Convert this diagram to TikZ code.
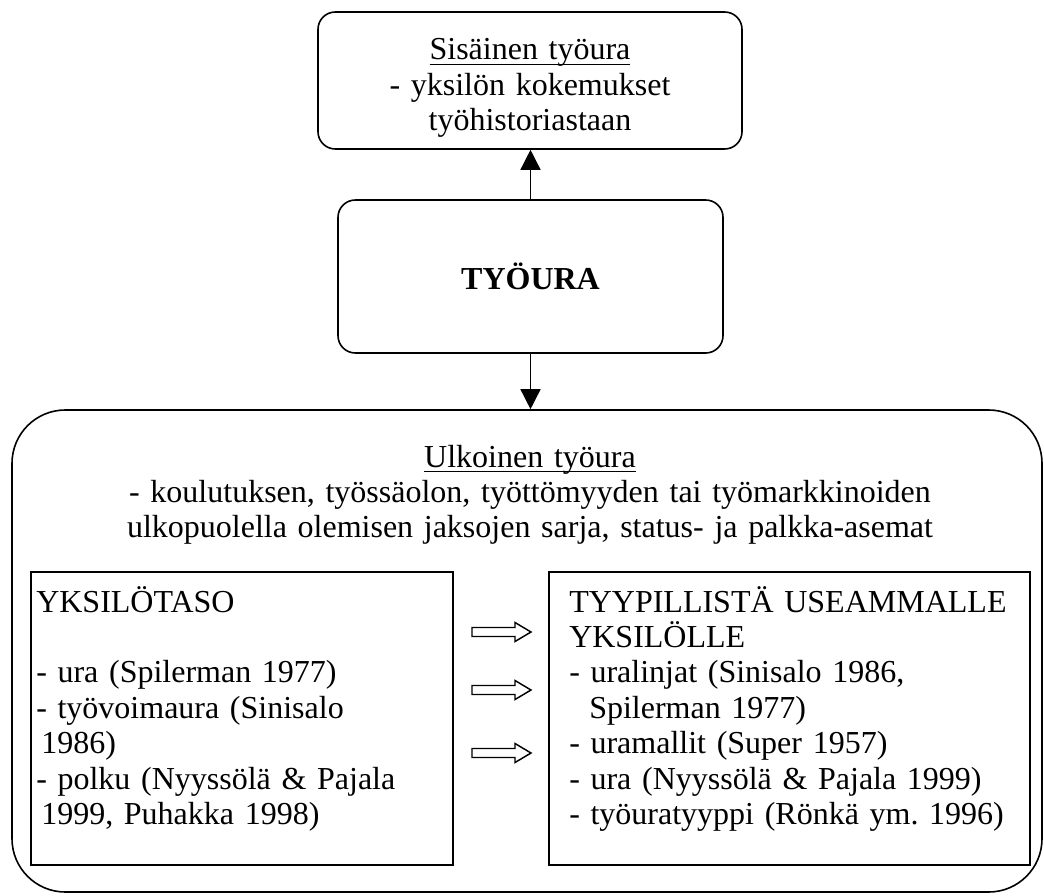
\documentclass[tikz,border=0pt]{standalone}
\usepackage{fontspec}
\setmainfont{Liberation Serif}
\usetikzlibrary{arrows.meta}

% one pixel of the layout
\newdimen\pxu
\pxu=0.75pt
% underline that runs through the descenders
\newcommand{\ulwords}[1]{\setbox0\hbox{#1}\rlap{\rule[-3.6pt]{\wd0}{0.9pt}}\box0}

\tikzset{
  roundbox/.style={draw, line width=1.2pt, rounded corners=#1, inner sep=0pt},
  plainbox/.style={draw, line width=1.2pt, inner sep=0pt},
  boxtext/.style={inner sep=0pt, text width=#1},
  link/.style={line width=1.1pt, -{Triangle[length=15pt,width=15pt]}},
  hollow/.style={line width=1.1pt, line join=miter}
}

\begin{document}
\begin{tikzpicture}[x=0.75pt, y=-0.75pt,
    every node/.append style={font=\fontsize{24pt}{26.6pt}\selectfont\frenchspacing}]
  \fill[white] (0,0) rectangle (1044,895);

  % inner career
  \node[roundbox=13pt, minimum width=424\pxu, minimum height=137\pxu] (sis) at (530,80.5) {};
  \node[boxtext=400\pxu, align=center, anchor=base] (sisteksti) at (530,60)
    {\ulwords{Sisäinen työura}\\- yksilön kokemukset\\työhistoriastaan};

  % the career itself
  \node[roundbox=13pt, minimum width=385\pxu, minimum height=153\pxu,
    font=\fontsize{24pt}{26.6pt}\selectfont\bfseries] (tyoura) at (530.5,276.5) {TYÖURA};

  % outer career
  \node[roundbox=40pt, minimum width=1030\pxu, minimum height=482\pxu] (ulk) at (527,651) {};
  \node[boxtext=1000\pxu, align=center, anchor=base] (ulkteksti) at (530,467)
    {\ulwords{Ulkoinen työura}\\- koulutuksen, työssäolon, työttömyyden tai työmarkkinoiden\\ulkopuolella olemisen jaksojen sarja, status- ja palkka-asemat};

  % individual level
  \node[plainbox, minimum width=422\pxu, minimum height=293\pxu] (yks) at (242,718.5) {};
  \node[boxtext=410\pxu, align=left, anchor=base west] (yksteksti) at (36,612)
    {YKSILÖTASO\\[26.6pt]- ura (Spilerman 1977)\\- työvoimaura (Sinisalo\\\hspace*{5\pxu}1986)\\- polku (Nyyssölä \& Pajala\\\hspace*{5\pxu}1999, Puhakka 1998)};

  % typical for several individuals
  \node[plainbox, minimum width=481\pxu, minimum height=293\pxu] (tyyp) at (789.5,718.5) {};
  \node[boxtext=460\pxu, align=left, anchor=base west] (tyypteksti) at (569,612)
    {TYYPILLISTÄ USEAMMALLE\\YKSILÖLLE\\- uralinjat (Sinisalo 1986,\\\hspace*{20\pxu}Spilerman 1977)\\- uramallit (Super 1957)\\- ura (Nyyssölä \& Pajala 1999)\\- työuratyyppi (Rönkä ym. 1996)};

  % hollow arrows between the levels
  \foreach \y in {632,690,753}
    \draw[hollow] (472,\y-4.5) -- (515,\y-4.5) -- (515,\y-9.5) -- (531,\y)
      -- (515,\y+9.5) -- (515,\y+4.5) -- (472,\y+4.5) -- cycle;

  % connectors
  \draw[link] (tyoura.north) -- (tyoura.north |- sis.south);
  \draw[link] (tyoura.south) -- (tyoura.south |- ulk.north);
\end{tikzpicture}
\end{document}
